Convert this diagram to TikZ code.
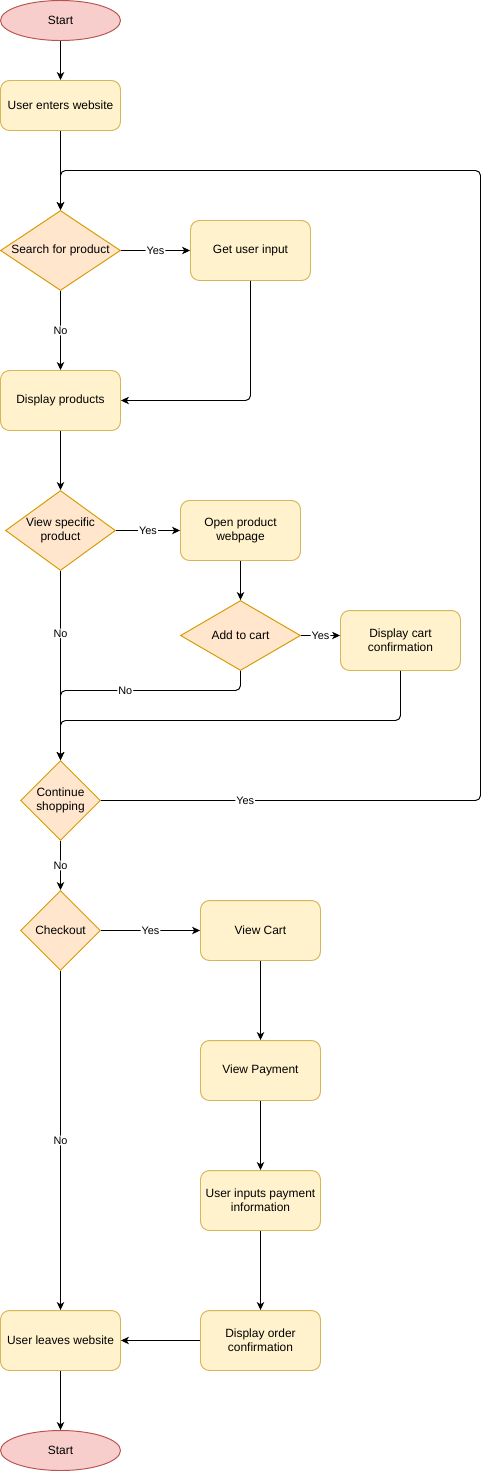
\documentclass[tikz,border=0pt]{standalone}
\usepackage{fontspec}
\setmainfont{Liberation Sans}
\usepackage{tikz}
\usetikzlibrary{shapes.geometric,arrows.meta}
\definecolor{termfill}{HTML}{F8CECC}
\definecolor{termline}{HTML}{B85450}
\definecolor{boxfill}{HTML}{FFF2CC}
\definecolor{boxline}{HTML}{D6B656}
\definecolor{askfill}{HTML}{FFE6CC}
\definecolor{askline}{HTML}{D79B00}

\begin{document}
\begin{tikzpicture}[x=0.02cm,y=-0.02cm,line width=0.55pt,
  every node/.style={font=\fontsize{6.8}{8.2}\selectfont,align=center,inner sep=0pt},
  term/.style={ellipse,draw=termline,fill=termfill,minimum width=2.4cm,minimum height=0.8cm},
  proc/.style={rectangle,rounded corners=0.18cm,draw=boxline,fill=boxfill,minimum width=2.4cm,minimum height=1.2cm},
  ask/.style={diamond,draw=askline,fill=askfill,minimum width=2.4cm,minimum height=1.6cm},
  lbl/.style={fill=white,font=\fontsize{6.2}{7}\selectfont,inner sep=0.6pt},
  flow/.style={-{Stealth[length=4.5pt,width=4.2pt,inset=1.2pt]},rounded corners=0.1cm}]
\useasboundingbox (-0.5,-0.5) rectangle (488.5,1470.5);

\node[term] (start) at (60,20) {Start};
\node[proc,minimum height=1cm] (enter) at (60,105) {User enters website};
\node[ask,aspect=1.5] (search) at (60,250) {Search for product};
\node[proc] (getin) at (250,250) {Get user input};
\node[proc] (disp) at (60,400) {Display products};
\node[ask,aspect=1.375,minimum width=2.2cm] (view) at (60,530) {View specific\\product};
\node[proc] (openpg) at (240,530) {Open product\\webpage};
\node[ask,aspect=1.714,minimum height=1.4cm] (cart) at (240,635) {Add to cart};
\node[proc] (cartok) at (400,640) {Display cart\\confirmation};
\node[ask,aspect=1,minimum width=1.6cm] (cont) at (60,800) {Continue\\shopping};
\node[ask,aspect=1,minimum width=1.6cm] (chk) at (60,930) {Checkout};
\node[proc] (vcart) at (260,930) {View Cart};
\node[proc] (vpay) at (260,1070) {View Payment};
\node[proc] (inpay) at (260,1200) {User inputs payment\\information};
\node[proc] (order) at (260,1340) {Display order\\confirmation};
\node[proc] (leave) at (60,1340) {User leaves website};
\node[term] (stop) at (60,1450) {Start};

\coordinate (loopR) at (480,170);
\coordinate (cartno) at (60,690);
\coordinate (dcback) at (60,720);

\draw[flow] (start) -- (enter);
\draw[flow] (enter) -- (search);
\draw[flow] (search) -- node[lbl]{Yes} (getin);
\draw[flow] (search) -- node[lbl]{No} (disp);
\draw[flow] (getin) |- (disp);
\draw[flow] (disp) -- (view);
\draw[flow] (view) -- node[lbl]{Yes} (openpg);
\draw[flow] (view) -- node[lbl,pos=0.33]{No} (cont);
\draw[flow] (openpg) -- (cart);
\draw[flow] (cart.east) -- node[lbl]{Yes} (cart.east -| cartok.west);
\draw[flow] (cart.south) |- node[lbl,pos=0.82]{No} (cartno) -- (cont.north);
\draw[flow] (cartok.south) |- (dcback) -- (cont.north);
\draw[flow] (cont.east) -| node[lbl,pos=0.19]{Yes} (loopR) -| (search.north);
\draw[flow] (cont) -- node[lbl]{No} (chk);
\draw[flow] (chk) -- node[lbl]{Yes} (vcart);
\draw[flow] (chk) -- node[lbl]{No} (leave);
\draw[flow] (vcart) -- (vpay);
\draw[flow] (vpay) -- (inpay);
\draw[flow] (inpay) -- (order);
\draw[flow] (order) -- (leave);
\draw[flow] (leave) -- (stop);

\end{tikzpicture}
\end{document}
